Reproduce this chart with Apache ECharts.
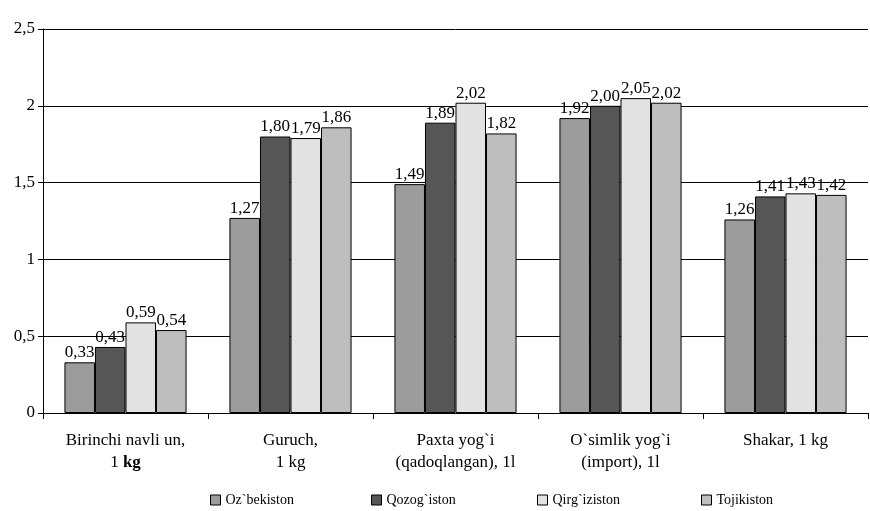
<!DOCTYPE html>
<html>
<head>
<meta charset="utf-8">
<script src="https://cdn.jsdelivr.net/npm/echarts@6/dist/echarts.min.js"></script>
<style>
  html, body { margin: 0; padding: 0; background: #fff; }
  #chart { width: 870px; height: 511px; }
</style>
</head>
<body>
<div id="chart"></div>
<script>
// mahsulotlar (kategoriyalar)
const categories = [
  'Birinchi navli un,\n1 kg',
  'Guruch,\n1 kg',
  "Paxta yog`i\n(qadoqlangan), 1l",
  "O`simlik yog`i\n(import), 1l",
  'Shakar, 1 kg'
];
const seriesNames = ["Oz`bekiston", "Qozog`iston", "Qirg`iziston", 'Tojikiston'];
const uzbekiston = [0.33, 1.27, 1.49, 1.92, 1.26];
const qozogiston = [0.43, 1.80, 1.89, 2.00, 1.41];
const qirgiziston = [0.59, 1.79, 2.02, 2.05, 1.43];
const tojikiston = [0.54, 1.86, 1.82, 2.02, 1.42];
const yTicks = [0, 0.5, 1, 1.5, 2, 2.5];

const colors = ['#9c9c9c', '#565656', '#e2e2e2', '#bebebe'];
const font = '"Liberation Serif", "Times New Roman", serif';
const comma = v => String(v).replace('.', ',');

let chart = echarts.init(document.getElementById('chart'));

const mkSeries = (name, data, i) => ({
  name: name,
  type: 'bar',
  data: data,
  barGap: '0%',
  barCategoryGap: '26%',
  itemStyle: { color: colors[i], borderColor: '#000', borderWidth: 1, borderRadius: 0 },
  label: {
    show: true,
    position: 'top',
    distance: 1,
    color: '#000',
    fontFamily: font,
    fontSize: 17,
    formatter: p => p.value.toFixed(2).replace('.', ',')
  }
});

const legendX = [205, 366, 532, 696];

let option = {
  animation: false,
  color: colors,
  grid: { left: 43, right: 2, top: 29, bottom: 98 },
  legend: seriesNames.map((n, i) => ({
    data: [n],
    left: legendX[i],
    top: 488,
    icon: 'rect',
    itemWidth: 10,
    itemHeight: 10,
    itemGap: 4,
    textStyle: { fontFamily: font, fontSize: 14, color: '#000' },
    itemStyle: { borderColor: '#000', borderWidth: 1 }
  })),
  xAxis: {
    type: 'category',
    data: categories,
    axisLine: { lineStyle: { color: '#000', width: 1 } },
    axisTick: { show: true, length: 6, lineStyle: { color: '#000' } },
    axisLabel: {
      interval: 0,
      margin: 17,
      color: '#000',
      fontFamily: font,
      fontSize: 17,
      lineHeight: 22,
      formatter: v => {
        if (v.indexOf('Birinchi') === 0) return 'Birinchi navli un,\n1 {b|kg}';
        return v;
      },
      rich: { b: { fontWeight: 'bold', fontFamily: font, fontSize: 17, color: '#000' } }
    }
  },
  yAxis: {
    type: 'value',
    min: yTicks[0],
    max: yTicks[yTicks.length - 1],
    interval: 0.5,
    axisLine: { show: true, lineStyle: { color: '#000' } },
    axisTick: { show: true, length: 5, lineStyle: { color: '#000' } },
    splitLine: { lineStyle: { color: '#000', width: 1 } },
    axisLabel: {
      margin: 8,
      color: '#000',
      fontFamily: font,
      fontSize: 17,
      formatter: comma
    }
  },
  series: [
    mkSeries(seriesNames[0], uzbekiston, 0),
    mkSeries(seriesNames[1], qozogiston, 1),
    mkSeries(seriesNames[2], qirgiziston, 2),
    mkSeries(seriesNames[3], tojikiston, 3)
  ]
};
option && chart.setOption(option);
</script>
</body>
</html>
